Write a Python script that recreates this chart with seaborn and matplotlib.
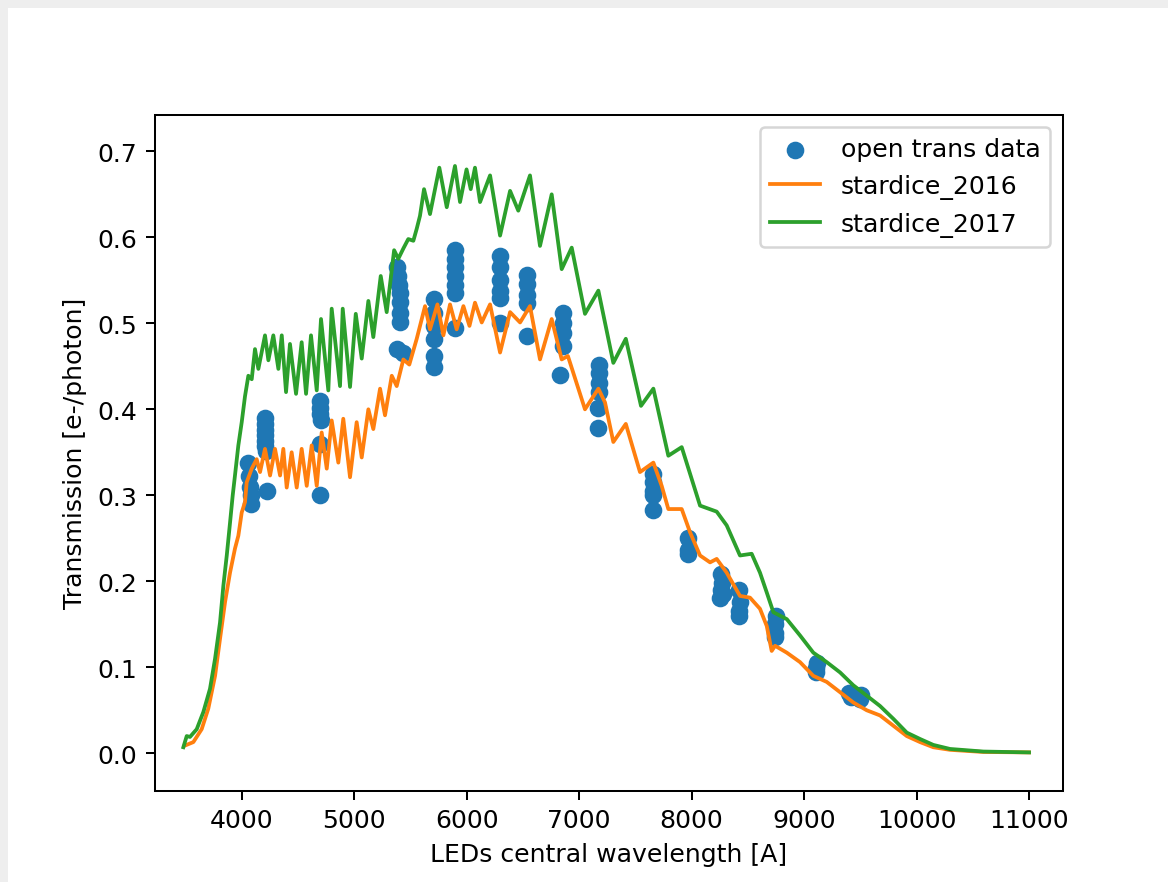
import matplotlib
matplotlib.use("Agg")
import matplotlib.pyplot as plt
from matplotlib.patches import Rectangle
import seaborn as sns

# ---- data: open transmission measurements (LED wavelengths) ----
open_x = [4060, 4068, 4075, 4085, 4080,
          4209, 4209, 4210, 4210, 4211, 4211, 4212, 4228,
          4700, 4700, 4700, 4702, 4700, 4696,
          5378, 5390, 5400, 5405, 5408, 5407, 5405, 5380, 5430,
          5710, 5710, 5710, 5708, 5708, 5706,
          5900, 5900, 5900, 5900, 5900, 5900, 5900,
          6295, 6295, 6295, 6295, 6295, 6297,
          6540, 6540, 6540, 6540, 6534,
          6860, 6860, 6860, 6860, 6830,
          7175, 7175, 7175, 7175, 7172, 7170,
          7660, 7660, 7660, 7655, 7658,
          7965, 7970, 7965,
          8260, 8270, 8265, 8250, 8280,
          8420, 8430, 8420, 8425,
          8750, 8745, 8740, 8745,
          9115, 9110, 9105,
          9400, 9420, 9450, 9480, 9510, 9500]
open_y = [0.338, 0.322, 0.310, 0.290, 0.300,
          0.390, 0.383, 0.376, 0.370, 0.363, 0.357, 0.352, 0.305,
          0.410, 0.402, 0.395, 0.387, 0.360, 0.300,
          0.565, 0.555, 0.545, 0.535, 0.525, 0.512, 0.502, 0.470, 0.466,
          0.528, 0.512, 0.497, 0.482, 0.462, 0.449,
          0.585, 0.575, 0.565, 0.555, 0.545, 0.535, 0.495,
          0.578, 0.565, 0.550, 0.537, 0.530, 0.500,
          0.556, 0.546, 0.533, 0.524, 0.485,
          0.512, 0.500, 0.489, 0.474, 0.440,
          0.452, 0.442, 0.431, 0.420, 0.402, 0.378,
          0.325, 0.315, 0.305, 0.300, 0.283,
          0.250, 0.236, 0.232,
          0.208, 0.198, 0.190, 0.180, 0.185,
          0.190, 0.176, 0.166, 0.160,
          0.160, 0.150, 0.140, 0.135,
          0.105, 0.099, 0.094,
          0.070, 0.065, 0.068, 0.066, 0.068, 0.063]

# ---- stardice_2016 transmission curve ----
s16_x = [3496, 3570, 3644, 3703, 3763, 3807, 3852, 3896, 3940, 3970,
         4000, 4029, 4044, 4089, 4133, 4163, 4207, 4252, 4296, 4341,
         4370, 4400, 4444, 4489, 4533, 4578, 4622, 4667, 4711, 4756,
         4800, 4859, 4903, 4963, 5022, 5067, 5126, 5170, 5230, 5274,
         5334, 5378, 5437, 5490, 5556, 5630, 5674, 5740, 5793, 5852,
         5911, 5971, 6025, 6074, 6134, 6208, 6297, 6386, 6475, 6563,
         6652, 6756, 6845, 6900, 7052, 7171, 7230, 7304, 7415, 7541,
         7660, 7734, 7793, 7912, 7986, 8075, 8164, 8223, 8312, 8430,
         8519, 8608, 8668, 8712, 8742, 8846, 8964, 9082, 9201, 9320,
         9438, 9557, 9675, 9794, 9913, 10031, 10149, 10298, 10594, 11000]
s16_y = [0.009, 0.013, 0.028, 0.052, 0.090, 0.133, 0.176, 0.210, 0.238, 0.253,
         0.280, 0.292, 0.315, 0.331, 0.342, 0.327, 0.354, 0.323, 0.354, 0.323,
         0.354, 0.309, 0.350, 0.309, 0.354, 0.311, 0.358, 0.311, 0.373, 0.331,
         0.387, 0.338, 0.389, 0.321, 0.385, 0.344, 0.400, 0.377, 0.424, 0.393,
         0.439, 0.427, 0.458, 0.452, 0.482, 0.520, 0.493, 0.522, 0.486, 0.522,
         0.493, 0.520, 0.497, 0.524, 0.501, 0.522, 0.466, 0.513, 0.501, 0.520,
         0.458, 0.505, 0.458, 0.462, 0.400, 0.424, 0.408, 0.362, 0.383, 0.327,
         0.338, 0.311, 0.284, 0.284, 0.257, 0.230, 0.222, 0.226, 0.210, 0.183,
         0.181, 0.168, 0.148, 0.119, 0.125, 0.117, 0.106, 0.090, 0.083, 0.071,
         0.059, 0.050, 0.044, 0.032, 0.020, 0.013, 0.007, 0.004, 0.0015, 0.001]

# ---- stardice_2017 transmission curve ----
s17_x = [3481, 3511, 3540, 3600, 3659, 3718, 3763, 3807, 3837, 3867,
         3896, 3920, 3940, 3970, 4000, 4029, 4059, 4089, 4118, 4148,
         4207, 4237, 4281, 4326, 4356, 4394, 4429, 4483, 4533, 4572,
         4616, 4667, 4705, 4770, 4800, 4874, 4898, 4963, 5014, 5067,
         5126, 5170, 5236, 5289, 5355, 5392, 5437, 5481, 5526, 5556,
         5585, 5621, 5674, 5757, 5823, 5896, 5941, 5999, 6036, 6074,
         6119, 6208, 6297, 6386, 6459, 6563, 6652, 6756, 6845, 6934,
         7052, 7171, 7304, 7415, 7550, 7660, 7793, 7912, 8075, 8223,
         8312, 8430, 8534, 8608, 8668, 8727, 8846, 8964, 9082, 9201,
         9320, 9438, 9557, 9675, 9794, 9913, 10031, 10149, 10298, 10594, 11000]
s17_y = [0.007, 0.020, 0.019, 0.028, 0.048, 0.075, 0.110, 0.152, 0.195, 0.230,
         0.268, 0.300, 0.323, 0.358, 0.385, 0.415, 0.439, 0.435, 0.470, 0.447,
         0.486, 0.457, 0.486, 0.447, 0.486, 0.420, 0.476, 0.418, 0.478, 0.418,
         0.486, 0.422, 0.505, 0.422, 0.517, 0.427, 0.517, 0.426, 0.511, 0.459,
         0.526, 0.484, 0.555, 0.513, 0.585, 0.575, 0.587, 0.598, 0.596, 0.610,
         0.625, 0.656, 0.627, 0.681, 0.635, 0.683, 0.641, 0.679, 0.656, 0.681,
         0.641, 0.672, 0.602, 0.654, 0.631, 0.672, 0.590, 0.650, 0.563, 0.588,
         0.511, 0.538, 0.454, 0.482, 0.404, 0.424, 0.346, 0.356, 0.288, 0.281,
         0.265, 0.230, 0.232, 0.210, 0.187, 0.164, 0.156, 0.137, 0.117, 0.106,
         0.094, 0.079, 0.067, 0.055, 0.040, 0.024, 0.0166, 0.0097, 0.005, 0.002, 0.001]

DPI = 181.25
fig = plt.figure(figsize=(1168 / DPI, 883 / DPI), dpi=DPI, facecolor="#eeeeee")
fig.add_artist(Rectangle((8 / 1168, 0), 1, 1 - 9 / 883, transform=fig.transFigure,
                         facecolor="white", edgecolor="none", zorder=-10))
ax = fig.add_axes([155 / 1168, 1 - 791.5 / 883, (1063 - 155) / 1168, (791.5 - 115.7) / 883])

sns.scatterplot(x=open_x, y=open_y, ax=ax, color="C0", s=36, linewidth=1.0,
                edgecolor="C0", label="open trans data", legend=False)
sns.lineplot(x=s16_x, y=s16_y, ax=ax, color="C1", linewidth=1.5, sort=False,
             estimator=None, label="stardice_2016", legend=False)
sns.lineplot(x=s17_x, y=s17_y, ax=ax, color="C2", linewidth=1.5, sort=False,
             estimator=None, label="stardice_2017", legend=False)

ax.set_xlim(3229, 11302)
ax.set_ylim(-0.0433, 0.7426)
ax.set_xticks([4000, 5000, 6000, 7000, 8000, 9000, 10000, 11000])
ax.set_yticks([0.0, 0.1, 0.2, 0.3, 0.4, 0.5, 0.6, 0.7])
ax.set_xlabel("LEDs central wavelength [A]")
ax.set_ylabel("Transmission [e-/photon]")

handles, labels = ax.get_legend_handles_labels()
order = [labels.index(l) for l in ["open trans data", "stardice_2016", "stardice_2017"]]
ax.legend([handles[i] for i in order], [labels[i] for i in order], loc="upper right")

fig.savefig("out.png", dpi=DPI)
